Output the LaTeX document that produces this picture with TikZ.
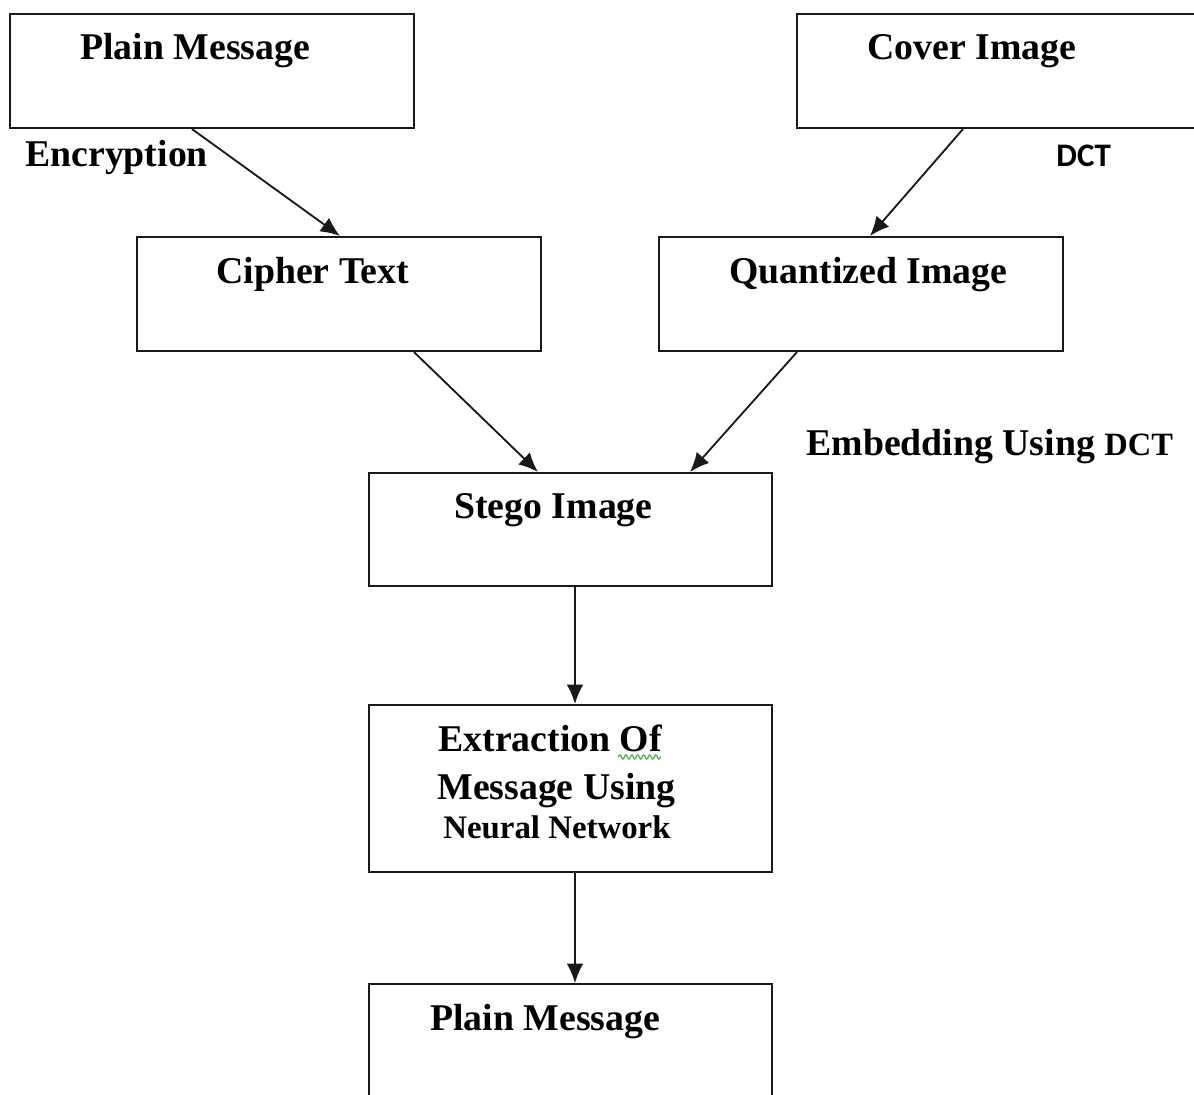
\documentclass[tikz,border=0pt]{standalone}
\usepackage{fontspec}
\setmainfont{Liberation Serif}
\newfontfamily\calfont{Carlito}
\usetikzlibrary{arrows.meta,fit,decorations.pathmorphing}

\begin{document}
\begin{tikzpicture}[x=0.02cm, y=-0.02cm,
  box/.style={draw=black!90, line width=1.2pt, inner sep=0pt, fit={#1}},
  lbl/.style={anchor=base west, inner sep=0pt, font=\fontsize{21.5}{24}\selectfont\bfseries},
  small/.style={anchor=base west, inner sep=0pt, font=\fontsize{18.7}{22}\selectfont\bfseries},
  arr/.style={draw=black!90, line width=1.05pt, -{Latex[length=11pt,width=9.5pt]}}]
  \useasboundingbox[fill=white] (0,0) rectangle (1194,1095);

  % process boxes
  \node[box={(10,14) (414,128)}]    (pm)  {};
  \node[box={(797,14) (1196,128)}]  (ci)  {};
  \node[box={(137,237) (541,351)}]  (ct)  {};
  \node[box={(659,237) (1063,351)}] (qi)  {};
  \node[box={(369,473) (772,586)}]  (si)  {};
  \node[box={(369,705) (772,872)}]  (ex)  {};
  \node[box={(369,984) (772,1110)}] (pm2) {};

  % box titles
  \node[lbl] (tpm)  at (80,60)    {Plain Message};
  \node[lbl] (tci)  at (867,60)   {Cover Image};
  \node[lbl] (tct)  at (216,283)  {Cipher Text};
  \node[lbl] (tqi)  at (729,283)  {Quantized Image};
  \node[lbl] (tsi)  at (454,518)  {Stego Image};
  \node[lbl] (tex1) at (438,751)  {Extraction Of};
  \node[lbl] (tex2) at (437,799)  {Message Using};
  \node[small] (tex3) at (443,838) {Neural Network};
  \node[lbl] (tpm2) at (430,1030) {Plain Message};

  % wavy mark under "Of"
  \coordinate (wa) at (618,757);
  \coordinate (wb) at (661,757);
  \draw[green!55!black!70, line width=0.7pt,
        decorate, decoration={snake, amplitude=1.2pt, segment length=3.4pt}] (wa) -- (wb);

  % step labels
  \node[lbl] (lenc) at (25,167) {Encryption};
  \node[anchor=base west, inner sep=0pt, font=\calfont\fontsize{18.7}{22}\selectfont\bfseries] (ldct) at (1056,167) {DCT};
  \node[lbl] (lemb) at (806,455) {Embedding Using \fontsize{18.5}{22}\selectfont DCT};

  % connectors
  \draw[arr] (pm.south -| 192,0) -- (ct.north -| 340,0);
  \draw[arr] (ci.south -| 963,0) -- (qi.north -| 870,0);
  \draw[arr] (ct.south -| 414,0) -- (si.north -| 538,0);
  \draw[arr] (qi.south -| 797,0) -- (si.north -| 690,0);
  \draw[arr] (si.south -| 575,0) -- (ex.north -| 575,0);
  \draw[arr] (ex.south -| 575,0) -- (pm2.north -| 575,0);
\end{tikzpicture}
\end{document}
